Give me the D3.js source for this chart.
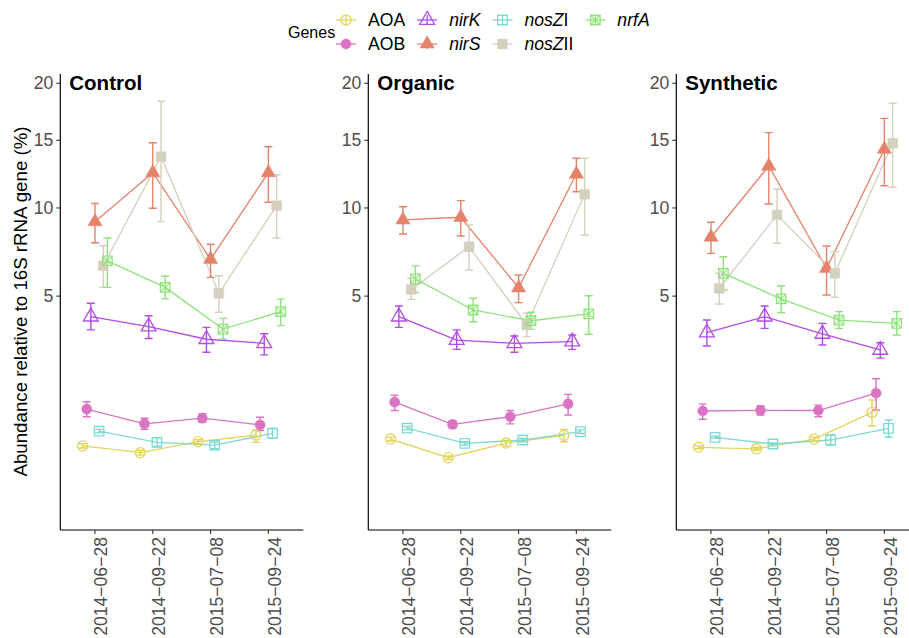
<!DOCTYPE html>
<html>
<head>
<meta charset="utf-8">
<script src="https://cdn.jsdelivr.net/npm/d3@7"></script>
<style>
body{margin:0;background:#fff;}
text{font-family:"Liberation Sans",Arial,sans-serif;}
</style>
</head>
<body>
<script>
// ---------------- DATA ----------------
const treatments = ["Control", "Organic", "Synthetic"];
const dates = ["2014-06-28", "2014-09-22", "2015-07-08", "2015-09-24"];
const dateLabels = ["2014\u221206\u221228", "2014\u221209\u221222", "2015\u221207\u221208", "2015\u221209\u221224"];
const genes = ["AOA", "AOB", "nirK", "nirS", "nosZI", "nosZII", "nrfA"];
const geneColors = ["#E2D45E", "#DA74C2", "#B44BE6", "#E5826A", "#7ED9D2", "#D5CFBD", "#90E27D"];
const yTicks = [5, 10, 15, 20];

// values per gene: Control(4 dates), Organic(4), Synthetic(4)
const aoaMean = [0.44, 0.35, 0.50, 0.60,  0.54, 0.29, 0.48, 0.60,  0.42, 0.40, 0.54, 1.03];
const aoaLow  = [0.41, 0.32, 0.47, 0.49,  0.51, 0.27, 0.44, 0.50,  0.40, 0.38, 0.51, 0.76];
const aoaHigh = [0.47, 0.38, 0.53, 0.69,  0.57, 0.31, 0.52, 0.70,  0.44, 0.42, 0.57, 1.31];

const aobMean = [1.10, 0.80, 0.91, 0.78,  1.26, 0.79, 0.94, 1.22,  1.06, 1.075, 1.07, 1.48];
const aobLow  = [0.94, 0.70, 0.83, 0.68,  1.07, 0.72, 0.80, 0.975, 0.89, 0.975, 0.94, 1.08];
const aobHigh = [1.27, 0.91, 1.00, 0.93,  1.43, 0.86, 1.07, 1.45,  1.22, 1.17, 1.19, 1.87];

const nirKMean = [4.08, 3.67, 3.18, 3.03,  4.08, 3.15, 3.03, 3.09,  3.43, 4.08, 3.38, 2.79];
const nirKLow  = [3.54, 3.21, 2.71, 2.62,  3.64, 2.81, 2.71, 2.81,  2.93, 3.60, 2.97, 2.51];
const nirKHigh = [4.67, 4.12, 3.64, 3.39,  4.55, 3.54, 3.30, 3.34,  3.94, 4.55, 3.80, 3.05];

const nirSMean = [9.11, 12.48, 6.88, 12.48,  9.22, 9.39, 5.40, 12.38,  8.15, 12.98, 6.39, 14.28];
const nirSLow  = [7.82, 9.98, 5.92, 10.38,   8.34, 8.22, 4.70, 11.11,  7.21, 10.26, 5.05, 11.53];
const nirSHigh = [10.30, 14.80, 7.73, 14.48, 10.08, 10.49, 6.04, 13.57, 9.07, 15.63, 7.63, 16.84];

const nosZIMean = [0.67, 0.49, 0.45, 0.63,  0.72, 0.476, 0.525, 0.66,  0.567, 0.466, 0.525, 0.718];
const nosZILow  = [0.64, 0.43, 0.40, 0.55,  0.69, 0.45, 0.50, 0.63,    0.55, 0.45, 0.452, 0.567];
const nosZIHigh = [0.70, 0.56, 0.495, 0.72, 0.75, 0.50, 0.55, 0.69,    0.585, 0.48, 0.604, 0.874];

const nosZIIMean = [6.53, 13.70, 5.13, 10.15,  5.32, 7.59, 3.74, 10.93,  5.37, 9.54, 6.13, 14.76];
const nosZIILow  = [5.42, 9.11, 4.27, 8.10,    4.85, 6.30, 3.28, 8.28,   4.64, 7.79, 4.95, 11.42];
const nosZIIHigh = [7.65, 18.34, 6.00, 12.33,  5.87, 8.90, 4.23, 13.57,  6.13, 11.28, 7.31, 18.16];

const nrfAMean = [6.79, 5.42, 3.57, 4.30,  5.84, 4.37, 3.91, 4.20,  6.13, 4.87, 3.94, 3.80];
const nrfALow  = [5.42, 4.87, 3.18, 3.71,  5.18, 3.87, 3.56, 3.37,  5.29, 4.25, 3.60, 3.34];
const nrfAHigh = [8.10, 5.98, 4.01, 4.87,  6.52, 4.90, 4.27, 5.02,  7.02, 5.49, 4.30, 4.30];

const means = [aoaMean, aobMean, nirKMean, nirSMean, nosZIMean, nosZIIMean, nrfAMean];
const lows  = [aoaLow, aobLow, nirKLow, nirSLow, nosZILow, nosZIILow, nrfALow];
const highs = [aoaHigh, aobHigh, nirKHigh, nirSHigh, nosZIHigh, nosZIIHigh, nrfAHigh];

// ---------------- LAYOUT ----------------
const W = 909, H = 638;
const panelLeft = [60.3, 368.3, 676.3];
const panelW = 243, panelTop = 74, panelBottom = 530;
const catStep = 57.8;
const dodgeWidth = 0.5;

const svg = d3.select("body").append("svg").attr("width", W).attr("height", H);

const y = d3.scaleSqrt().domain([0, 20]).range([509, 509 - 95.2 * Math.sqrt(20)]);
const color = d3.scaleOrdinal().domain(genes).range(geneColors);

function shapeFor(gene) {
  switch (gene) {
    case "AOA": return {type: d3.symbolCircle, size: 80, filled: false};
    case "AOB": return {type: d3.symbolCircle, size: 80, filled: true};
    case "nirK": return {type: d3.symbolTriangle, size: 95, filled: false};
    case "nirS": return {type: d3.symbolTriangle, size: 88, filled: true};
    case "nosZI": return {type: d3.symbolSquare, size: 90, filled: false};
    case "nosZII": return {type: d3.symbolSquare, size: 95, filled: true};
    case "nrfA": return {type: d3.symbolSquare, size: 90, filled: false, cross: true};
  }
}

function drawPoint(g, gene, cx, cy) {
  const s = shapeFor(gene);
  const c = color(gene);
  g.append("path")
    .attr("d", d3.symbol().type(s.type).size(s.size)())
    .attr("transform", `translate(${cx},${cy})`)
    .attr("fill", s.filled ? c : "none")
    .attr("stroke", c)
    .attr("stroke-width", s.filled ? 0.5 : 1.3);
  if (s.cross) {
    const h = Math.sqrt(s.size) / 2;
    g.append("path")
      .attr("d", `M${-h},${-h}L${h},${h}M${-h},${h}L${h},${-h}`)
      .attr("transform", `translate(${cx},${cy})`)
      .attr("stroke", c).attr("stroke-width", 1.1).attr("fill", "none");
  }
}

treatments.forEach((t, p) => {
  const left = panelLeft[p];
  const x = d3.scalePoint().domain(dates).range([left + 0.6 * catStep, left + 3.6 * catStep]);
  const dodge = i => (i - (genes.length - 1) / 2) * catStep * dodgeWidth / genes.length;
  const g = svg.append("g");

  // axes lines
  g.append("line").attr("x1", left).attr("x2", left).attr("y1", panelTop).attr("y2", panelBottom)
    .attr("stroke", "#000").attr("stroke-width", 1.2);
  g.append("line").attr("x1", left).attr("x2", left + panelW).attr("y1", panelBottom).attr("y2", panelBottom)
    .attr("stroke", "#000").attr("stroke-width", 1.2);

  // y ticks
  yTicks.forEach(v => {
    g.append("line").attr("x1", left - 4).attr("x2", left).attr("y1", y(v)).attr("y2", y(v))
      .attr("stroke", "#333").attr("stroke-width", 1.1);
    g.append("text").attr("x", left - 7).attr("y", y(v)).attr("dy", "0.35em")
      .attr("text-anchor", "end").attr("font-size", 17.6).attr("fill", "#4D4D4D").text(v);
  });
  // x ticks
  dates.forEach((d, k) => {
    const xv = x(d);
    g.append("line").attr("x1", xv).attr("x2", xv).attr("y1", panelBottom).attr("y2", panelBottom + 4)
      .attr("stroke", "#333").attr("stroke-width", 1.1);
    g.append("text").attr("transform", `translate(${xv + 12.5},${panelBottom + 7}) rotate(-90)`)
      .attr("text-anchor", "end").attr("font-size", 17.6).attr("fill", "#4D4D4D").text(dateLabels[k]);
  });

  // facet title
  g.append("text").attr("x", left + 9).attr("y", 90).attr("font-size", 20.5).attr("font-weight", "bold")
    .attr("fill", "#000").text(t);

  // lines
  genes.forEach((gene, i) => {
    const pts = dates.map((d, k) => [x(d) + dodge(i), y(means[i][p * 4 + k])]);
    g.append("path").attr("d", d3.line()(pts)).attr("fill", "none")
      .attr("stroke", color(gene)).attr("stroke-width", 1.3);
  });
  // error bars
  genes.forEach((gene, i) => {
    dates.forEach((d, k) => {
      const xv = x(d) + dodge(i);
      const lo = y(lows[i][p * 4 + k]), hi = y(highs[i][p * 4 + k]);
      const cw = 4;
      g.append("path")
        .attr("d", `M${xv - cw},${hi}H${xv + cw}M${xv},${hi}V${lo}M${xv - cw},${lo}H${xv + cw}`)
        .attr("fill", "none").attr("stroke", color(gene)).attr("stroke-width", 1.4);
    });
  });
  // points
  genes.forEach((gene, i) => {
    dates.forEach((d, k) => {
      drawPoint(g, gene, x(d) + dodge(i), y(means[i][p * 4 + k]));
    });
  });
});

// y axis title
svg.append("text").attr("transform", `translate(27,301.5) rotate(-90)`)
  .attr("text-anchor", "middle").attr("font-size", 18.7).attr("fill", "#000")
  .text("Abundance relative to 16S rRNA gene (%)");

// ---------------- LEGEND ----------------
const leg = svg.append("g");
leg.append("text").attr("x", 288).attr("y", 38).attr("font-size", 16).attr("fill", "#000").text("Genes");
const rowY = [20, 44];
const labelParts = {
  "AOA": [["AOA", false]], "AOB": [["AOB", false]],
  "nirK": [["nirK", true]], "nirS": [["nirS", true]],
  "nosZI": [["nosZ", true], ["I", false]], "nosZII": [["nosZ", true], ["II", false]],
  "nrfA": [["nrfA", true]]
};
let keyLeft = 336;
const nCols = Math.ceil(genes.length / 2);
for (let c = 0; c < nCols; c++) {
  let maxW = 0;
  for (let r = 0; r < 2; r++) {
    const i = c * 2 + r;
    if (i >= genes.length) continue;
    const gene = genes[i];
    const cy = rowY[r], cx = keyLeft + 10;
    const col = color(gene);
    leg.append("line").attr("x1", keyLeft).attr("x2", keyLeft + 20).attr("y1", cy).attr("y2", cy)
      .attr("stroke", col).attr("stroke-width", 1.3);
    leg.append("line").attr("x1", cx).attr("x2", cx).attr("y1", cy - 5).attr("y2", cy + 5)
      .attr("stroke", col).attr("stroke-width", 1.3);
    drawPoint(leg, gene, cx, cy);
    const txt = leg.append("text").attr("x", keyLeft + 32).attr("y", cy).attr("dy", "0.35em")
      .attr("font-size", 17.6).attr("fill", "#000");
    labelParts[gene].forEach(([s, it]) => {
      txt.append("tspan").attr("font-style", it ? "italic" : "normal").text(s);
    });
    maxW = Math.max(maxW, txt.node().getComputedTextLength());
  }
  keyLeft = keyLeft + 32 + maxW + 12;
}
</script>
</body>
</html>
